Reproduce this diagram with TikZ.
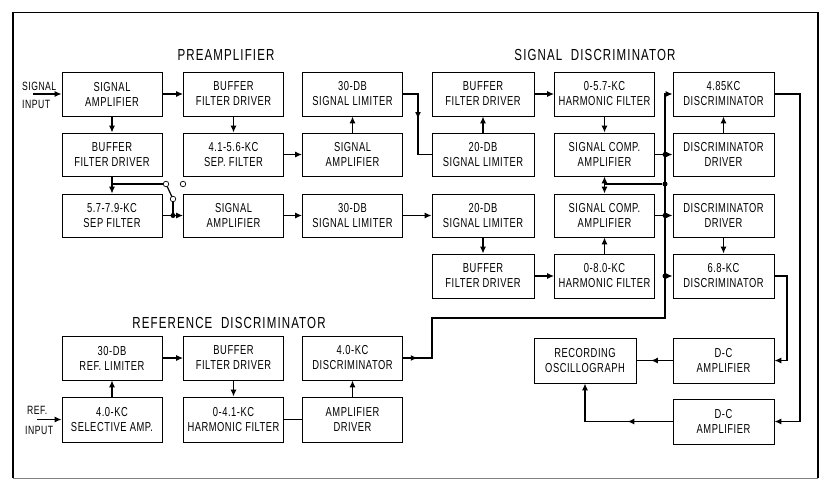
\documentclass[tikz,border=0pt]{standalone}
\usepackage{fontspec}
\setmainfont{Liberation Sans}
\newfontfamily\boxfont[FakeStretch=0.72,LetterSpace=4]{Liberation Sans}
\newfontfamily\titlefont[FakeStretch=0.72,LetterSpace=7]{Liberation Sans}
\usetikzlibrary{arrows.meta,decorations.markings,calc}
\begin{document}
\begin{tikzpicture}[x=1pt,y=-1pt,
 box/.style={draw,line width=0.7pt,minimum width=100pt,minimum height=44pt,inner sep=0pt,align=center,font=\boxfont\fontsize{13}{15}\selectfont},
 conn/.style={line width=1.6pt},
 arr/.style={conn,-{Latex[length=7pt,width=6pt]}},
 midarr/.style={postaction={decorate,decoration={markings,mark=at position #1 with {\arrow{Latex[length=7pt,width=6pt]}}}}},
 jdot/.style={circle,fill,inner sep=0pt,minimum size=5pt},
 contact/.style={circle,draw,line width=0.7pt,inner sep=0pt,minimum size=5.5pt,fill=white},
 title/.style={font=\titlefont\fontsize{16}{18}\selectfont},
 lbl/.style={font=\boxfont\fontsize{12}{14}\selectfont,anchor=west,inner sep=0pt}]

\useasboundingbox (0,0) rectangle (821,479);
\draw[line width=1.4pt] (13,478) -- (13,12.5) -- (818,12.5) -- (818,478);
\draw[line width=0.6pt,gray] (13,478) -- (818,478);

% titles
\node[title] (tpre) at (226,55) {PREAMPLIFIER};
\node[title] (tsig) at (595,55) {SIGNAL\ \ DISCRIMINATOR};
\node[title] (tref) at (229,323) {REFERENCE\ \ DISCRIMINATOR};

% row 1
\node[box] (sa1) at (112,94) {SIGNAL\\AMPLIFIER};
\node[box] (bfd1) at (233.5,94) {BUFFER\\FILTER DRIVER};
\node[box] (lim1) at (352.5,94) {30-DB\\SIGNAL LIMITER};
\node[box,minimum width=102pt] (bfd3) at (483,94) {BUFFER\\FILTER DRIVER};
\node[box] (hf57) at (604.5,94) {0-5.7-KC\\HARMONIC FILTER};
\node[box,minimum width=101pt] (d485) at (723.5,94) {4.85KC\\DISCRIMINATOR};
% row 2
\node[box,minimum height=43pt] (bfd2) at (112,154.5) {BUFFER\\FILTER DRIVER};
\node[box,minimum height=43pt] (sep41) at (233.5,154.5) {4.1-5.6-KC\\SEP. FILTER};
\node[box,minimum height=43pt] (sa2) at (352.5,154.5) {SIGNAL\\AMPLIFIER};
\node[box,minimum height=43pt,minimum width=102pt] (lim2) at (483,154.5) {20-DB\\SIGNAL LIMITER};
\node[box,minimum height=43pt] (sca2) at (604.5,154.5) {SIGNAL COMP.\\AMPLIFIER};
\node[box,minimum height=43pt,minimum width=101pt] (dd2) at (723.5,154.5) {DISCRIMINATOR\\DRIVER};
% row 3
\node[box,minimum height=43pt] (sep57) at (112,215.5) {5.7-7.9-KC\\SEP FILTER};
\node[box,minimum height=43pt] (sa3) at (233.5,215.5) {SIGNAL\\AMPLIFIER};
\node[box,minimum height=43pt] (lim3) at (352.5,215.5) {30-DB\\SIGNAL LIMITER};
\node[box,minimum height=43pt,minimum width=102pt] (lim4) at (483,215.5) {20-DB\\SIGNAL LIMITER};
\node[box,minimum height=43pt] (sca3) at (604.5,215.5) {SIGNAL COMP.\\AMPLIFIER};
\node[box,minimum height=43pt,minimum width=101pt] (dd3) at (723.5,215.5) {DISCRIMINATOR\\DRIVER};
% row 4
\node[box,minimum width=102pt] (bfd5) at (483,276) {BUFFER\\FILTER DRIVER};
\node[box] (hf80) at (604.5,276) {0-8.0-KC\\HARMONIC FILTER};
\node[box,minimum width=101pt] (d68) at (723.5,276) {6.8-KC\\DISCRIMINATOR};
% reference discriminator
\node[box] (reflim) at (112,358) {30-DB\\REF. LIMITER};
\node[box] (bfd6) at (233.5,358) {BUFFER\\FILTER DRIVER};
\node[box] (d40) at (352.5,358) {4.0-KC\\DISCRIMINATOR};
\node[box,minimum height=45pt] (selamp) at (112,419.5) {4.0-KC\\SELECTIVE AMP.};
\node[box,minimum height=45pt] (hf41) at (233.5,419.5) {0-4.1-KC\\HARMONIC FILTER};
\node[box,minimum height=45pt] (ampdrv) at (352.5,419.5) {AMPLIFIER\\DRIVER};
% output
\node[box,minimum width=102pt,minimum height=45pt] (osc) at (585,360.5) {RECORDING\\OSCILLOGRAPH};
\node[box,minimum width=101pt,minimum height=45pt] (dca1) at (723.5,360.5) {D-C\\AMPLIFIER};
\node[box,minimum width=101pt,minimum height=45pt] (dca2) at (723.5,421.5) {D-C\\AMPLIFIER};

% inputs
\node[lbl] (sigl) at (22,86.5) {SIGNAL};
\node[lbl] (sigl2) at (22,104.5) {INPUT};
\coordinate (sigin) at (33,94);
\draw[arr] (sigin) -- (sa1.west);
\node[lbl] (refl) at (27,410) {REF.};
\node[lbl] (refl2) at (25,430) {INPUT};
\coordinate (refin) at (37,419.5);
\draw[arr] (refin) -- (selamp.west);

% preamplifier connections
\draw[arr] (sa1.east) -- (bfd1.west);
\draw[arr] (sa1.south) -- (bfd2.north);
\draw[arr] (bfd1.south) -- (sep41.north);
\draw[arr] (sep41.east) -- (sa2.west);
\draw[arr] (sa2.north) -- (lim1.south);
\draw[conn,midarr=0.45] (lim1.east) -- (418,94) -- (418,154.5) -- (lim2.west);
\draw[arr] (bfd2.south) -- (sep57.north);
\coordinate (sw1) at (112,184);
\draw[conn] (sw1) -- (163,184);
\draw[arr] (sep57.east) -- (sa3.west);
\draw[conn] (173,199) -- (173,215.5);
\draw[line width=1.2pt] (166,184) -- (173,199);
\node[contact] (ca) at (166,184) {};
\node[contact] (cb) at (183,184) {};
\node[contact] (cp) at (173,199) {};
\node[jdot] (j1) at (173,215.5) {};
\draw[arr] (sa3.east) -- (lim3.west);
\draw[arr] (lim3.east) -- (lim4.west);

% signal discriminator connections
\draw[arr] (lim2.north) -- (bfd3.south);
\draw[arr] (bfd3.east) -- (hf57.west);
\draw[arr] (hf57.south) -- (sca2.north);
\draw[arr] (lim4.south) -- (bfd5.north);
\draw[arr] (bfd5.east) -- (hf80.west);
\draw[arr] (hf80.north) -- (sca3.south);
\draw[arr] (dd2.north) -- (d485.south);
\draw[arr] (dd3.south) -- (d68.north);

% reference bus
\draw[arr,midarr=0.028] (d40.east) -- (432,358) -- (432,318) -- (665,318) -- (665,94) -- (d485.west);
\node[jdot] (j2) at (665,154.5) {};
\node[jdot] (j3) at (665,184) {};
\node[jdot] (j4) at (665,215.5) {};
\node[jdot] (j5) at (665,276) {};
\coordinate (j3b) at (604.5,184);
\draw[arr] (sca2.east) -- (dd2.west);
\draw[arr] (sca3.east) -- (dd3.west);
\draw[arr] (j5) -- (d68.west);
\draw[arr] (j3) -| (sca2.south);
\draw[arr] (j3b) -- (sca3.north);

% outputs
\draw[arr] (d485.east) -- (800,94) -- (800,421.5) -- (dca2.east);
\draw[arr] (d68.east) -- (787,276) -- (787,360.5) -- (dca1.east);
\draw[conn,midarr=0.6] (dca1.west) -- (osc.east);
\draw[arr,midarr=0.36] (dca2.west) -| (osc.south);

% reference discriminator connections
\draw[arr] (selamp.north) -- (reflim.south);
\draw[arr] (reflim.east) -- (bfd6.west);
\draw[arr] (bfd6.south) -- (hf41.north);
\draw[conn] (hf41.east) -- (ampdrv.west);
\draw[arr] (ampdrv.north) -- (d40.south);
\end{tikzpicture}
\end{document}
